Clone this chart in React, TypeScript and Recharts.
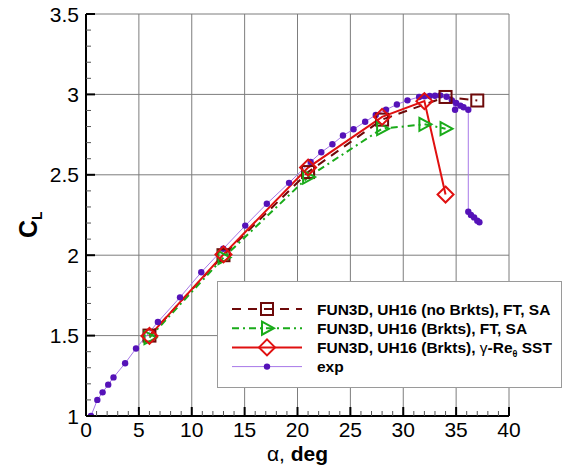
import { ComposedChart, Line, XAxis, YAxis, ReferenceLine, Legend } from "recharts"

// angle of attack (deg) and lift coefficient
const alphaNoBrkts = [6, 13, 21, 28, 34, 37]
const clNoBrkts = [1.5, 2.0, 2.517, 2.843, 2.984, 2.962]

const alphaBrkts = [6, 13, 21, 28, 32, 34]
const clBrkts = [1.487, 1.985, 2.486, 2.787, 2.814, 2.787]

const alphaSst = [6, 13, 21, 28, 32, 34]
const clSst = [1.498, 2.005, 2.545, 2.86, 2.958, 2.377]

const alphaExp = [
  0.47, 1.07, 1.57, 2.1, 2.6, 3.7, 4.73, 6.8, 8.89, 10.9, 12.98, 15.06, 17.1, 19.2, 21.24, 22.25,
  23.3, 24.3, 25.3, 26.4, 27.4, 28.37, 29.4, 30.4, 31.5, 32.0, 32.5, 33.0, 33.5, 34.1, 34.6, 34.9,
  35.0, 35.4, 35.7, 36.15, 36.15, 36.4, 36.7, 37.0, 37.2,
]
const clExp = [
  1.0, 1.1, 1.147, 1.195, 1.24, 1.328, 1.42, 1.585, 1.738, 1.894, 2.04, 2.184, 2.32, 2.45, 2.58, 2.64,
  2.69, 2.744, 2.783, 2.83, 2.872, 2.905, 2.937, 2.963, 2.984, 2.988, 2.99, 2.992, 2.994, 2.985, 2.963, 2.905,
  2.947, 2.93, 2.92, 2.905, 2.27, 2.25, 2.235, 2.215, 2.205,
]

const xMajor = [0, 5, 10, 15, 20, 25, 30, 35, 40]
const yMajor = [1, 1.5, 2, 2.5, 3, 3.5]

const xTicks = Array.from({ length: 41 }, (_, i) => i)
const yTicks = Array.from({ length: 26 }, (_, i) => Math.round((1 + i * 0.1) * 10) / 10)

const zip = (a: number[], c: number[]) => a.map((v, i) => ({ a: v, cl: c[i] }))

const noBrkts = zip(alphaNoBrkts, clNoBrkts)
const brkts = zip(alphaBrkts, clBrkts)
const sst = zip(alphaSst, clSst)
const exp = zip(alphaExp, clExp)

const MAROON = "#6e0a0a"
const GREEN = "#1aab1a"
const RED = "#e01010"
const LAVENDER = "#a778e8"
const PURPLE = "#5512b8"
const GRID = "#7d7d7d"
const FONT = "'Liberation Sans', Arial, Helvetica, sans-serif"

const Square = ({ cx, cy, color }: any) => (
  <rect x={cx - 6} y={cy - 6} width={12} height={12} fill="none" stroke={color} strokeWidth={2} />
)
const Triangle = ({ cx, cy, color }: any) => (
  <path d={`M${cx - 5},${cy - 6.5} L${cx + 7},${cy} L${cx - 5},${cy + 6.5} Z`} fill="none" stroke={color} strokeWidth={2} />
)
const Diamond = ({ cx, cy, color }: any) => (
  <path d={`M${cx},${cy - 8} L${cx + 8},${cy} L${cx},${cy + 8} L${cx - 8},${cy} Z`} fill="none" stroke={color} strokeWidth={2} />
)
const Dot = ({ cx, cy }: any) => <circle cx={cx} cy={cy} r={3.2} fill={PURPLE} />

const isMajorX = (v: number) => v % 5 === 0
const isMajorY = (v: number) => Math.abs(v * 2 - Math.round(v * 2)) < 1e-6

const XTick = (props: any) => {
  const { x, y, payload } = props
  const major = isMajorX(payload.value)
  return (
    <g>
      <line x1={x} x2={x} y1={y} y2={y - (major ? 9 : 5)} stroke={major ? "#000" : "#555"} strokeWidth={major ? 2 : 1} />
      {major && (
        <text x={x} y={y + 21} textAnchor="middle" fontFamily={FONT} fontSize={21} fill="#000">
          {payload.value}
        </text>
      )}
    </g>
  )
}

const YTick = (props: any) => {
  const { x, y, payload } = props
  const major = isMajorY(payload.value)
  return (
    <g>
      <line x1={x} x2={x + (major ? 9 : 5)} y1={y} y2={y} stroke={major ? "#000" : "#555"} strokeWidth={major ? 2 : 1} />
      {major && (
        <text x={x - 7} y={y + 7.5} textAnchor="end" fontFamily={FONT} fontSize={21} fill="#000">
          {String(Math.round(payload.value * 10) / 10)}
        </text>
      )}
    </g>
  )
}

const legendRows = [
  { label: "FUN3D, UH16 (no Brkts), FT, SA", color: MAROON, dash: "9 7", width: 2, Marker: Square },
  { label: "FUN3D, UH16 (Brkts), FT, SA", color: GREEN, dash: "7 4 2 4", width: 2, Marker: Triangle },
  { label: "sst", color: RED, dash: undefined, width: 2, Marker: Diamond },
  { label: "exp", color: LAVENDER, dash: undefined, width: 1, Marker: Dot },
]

const LegendBox = () => (
  <div style={{ width: 345, height: 107, boxSizing: "border-box", border: "1.5px solid #9a9a9a", background: "#fff" }}>
    <svg width={343} height={105}>
      {legendRows.map((r, i) => {
        const cy = 27 + i * 19.2
        return (
          <g key={i}>
            <line x1={14} x2={84} y1={cy} y2={cy} stroke={r.color} strokeWidth={r.width} strokeDasharray={r.dash} />
            <r.Marker cx={49} cy={cy} color={r.color} />
            <text x={99} y={cy + 5.5} fontFamily={FONT} fontSize={15.5} fontWeight="bold" fill="#000">
              {r.label === "sst" ? (
                <>
                  FUN3D, UH16 (Brkts),{" "}
                  <tspan fontWeight="normal">γ</tspan>-Re
                  <tspan fontSize={9} dy={4}>θ</tspan>
                  <tspan dy={-4}> SST</tspan>
                </>
              ) : (
                r.label
              )}
            </text>
          </g>
        )
      })}
    </svg>
  </div>
)

export default function App() {
  return (
    <div style={{ position: "absolute", left: 0, top: 0, width: 568, height: 469, background: "#fff" }}>
      <ComposedChart width={568} height={469} margin={{ top: 14, right: 59, left: 0, bottom: 0 }}>
        <XAxis
          dataKey="a"
          type="number"
          domain={[0, 40]}
          ticks={xTicks}
          interval={0}
          tickSize={0}
          tickMargin={0}
          height={53}
          tick={<XTick />}
          axisLine={{ stroke: "#000", strokeWidth: 2 }}
          allowDataOverflow
          label={{
            content: (p: any) => {
              const vb = p.viewBox
              return (
                <text x={vb.x + vb.width / 2} y={461} textAnchor="middle" fontFamily={FONT} fontSize={21} fill="#000">
                  α, <tspan fontWeight="bold">deg</tspan>
                </text>
              )
            },
          }}
        />
        <YAxis
          dataKey="cl"
          type="number"
          domain={[1, 3.5]}
          ticks={yTicks}
          interval={0}
          tickSize={0}
          tickMargin={0}
          width={86}
          tick={<YTick />}
          axisLine={{ stroke: "#000", strokeWidth: 2 }}
          allowDataOverflow
          label={{
            content: () => (
              <text transform="translate(37,238) rotate(-90)" fontFamily={FONT} fontSize={25} fontWeight="bold" fill="#000">
                C<tspan fontSize={14} dy={5}>L</tspan>
              </text>
            ),
          }}
        />
        {xMajor.slice(1).map((v) => (
          <ReferenceLine key={`gx${v}`} x={v} stroke={GRID} strokeWidth={1} />
        ))}
        {yMajor.slice(1).map((v) => (
          <ReferenceLine key={`gy${v}`} y={v} stroke={GRID} strokeWidth={1} />
        ))}
        <Line
          data={exp}
          dataKey="cl"
          type="linear"
          stroke={LAVENDER}
          strokeWidth={1}
          dot={(p: any) => <Dot key={`e${p.index}`} cx={p.cx} cy={p.cy} />}
          activeDot={false}
          isAnimationActive={false}
        />
        <Line
          data={noBrkts}
          dataKey="cl"
          type="linear"
          stroke={MAROON}
          strokeWidth={2}
          strokeDasharray="9 7"
          dot={(p: any) => <Square key={`s${p.index}`} cx={p.cx} cy={p.cy} color={MAROON} />}
          activeDot={false}
          isAnimationActive={false}
        />
        <Line
          data={brkts}
          dataKey="cl"
          type="linear"
          stroke={GREEN}
          strokeWidth={2}
          strokeDasharray="7 4 2 4"
          dot={(p: any) => <Triangle key={`t${p.index}`} cx={p.cx} cy={p.cy} color={GREEN} />}
          activeDot={false}
          isAnimationActive={false}
        />
        <Line
          data={sst}
          dataKey="cl"
          type="linear"
          stroke={RED}
          strokeWidth={2}
          dot={(p: any) => <Diamond key={`d${p.index}`} cx={p.cx} cy={p.cy} color={RED} />}
          activeDot={false}
          isAnimationActive={false}
        />
        <Legend
          layout="vertical"
          align="center"
          verticalAlign="middle"
          content={() => <LegendBox />}
          wrapperStyle={{ position: "absolute", left: 217, top: 281, width: 345, height: 107 }}
        />
      </ComposedChart>
    </div>
  )
}
